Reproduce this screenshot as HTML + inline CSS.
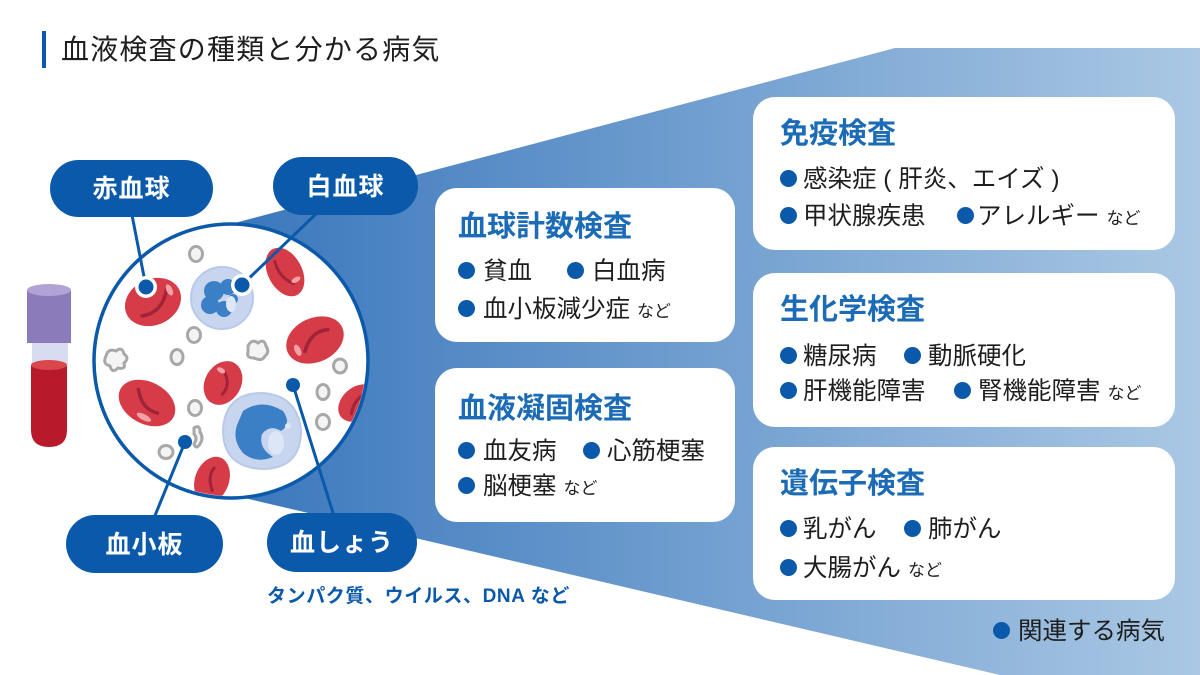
<!DOCTYPE html>
<html><head><meta charset="utf-8">
<style>
*{margin:0;padding:0;box-sizing:border-box}
body{width:1200px;height:675px;overflow:hidden;background:#fff;position:relative;font-family:"Liberation Sans","Noto Sans CJK JP",sans-serif;color:#1e1e1e}
svg{position:absolute;left:0;top:0}
.t{position:absolute;white-space:nowrap;line-height:1}
.pill{position:absolute;background:#0b59aa;color:#fff;font-weight:bold;font-size:25px;text-align:center;border-radius:30px;letter-spacing:1px}
.card{position:absolute;background:#fff;border-radius:22px}
.ct{position:absolute;font-size:29px;font-weight:bold;color:#1b6bb6;line-height:1;white-space:nowrap}
.it{position:absolute;font-size:24.5px;line-height:1;white-space:nowrap;color:#1e1e1e}
.b{position:absolute;width:17px;height:17px;border-radius:50%;background:#0b59aa}
.s{font-size:17px;margin-left:7px}
</style></head><body>
<svg width="1200" height="675" viewBox="0 0 1200 675">
<defs>
<linearGradient id="g" x1="230" y1="0" x2="1200" y2="0" gradientUnits="userSpaceOnUse">
<stop offset="0" stop-color="#3a77bc"/><stop offset="1" stop-color="#aac8e4"/>
</linearGradient>
<clipPath id="cc"><circle cx="231" cy="361" r="135"/></clipPath>
</defs>
<polygon points="231,224 895,48 1200,48 1200,675 1000,675 240,497" fill="url(#g)"/>
<!-- test tube -->
<rect x="27" y="290" width="44" height="53" fill="#8c7bbb"/>
<ellipse cx="49" cy="290" rx="22" ry="6" fill="#b1a4d4"/>
<rect x="32" y="343" width="36" height="22" fill="#d8dcf0"/>
<path d="M31,365 L67,365 L67,430 Q67,447 49,447 Q31,447 31,430 Z" fill="#b81a2c"/>
<ellipse cx="49" cy="365" rx="18" ry="5" fill="#d9474d"/>
<!-- circle -->
<circle cx="231" cy="361" r="137" fill="#fff" stroke="#0b59aa" stroke-width="3.5"/>
<g clip-path="url(#cc)">
<!-- platelets rings -->
<g fill="#f4f4f4" stroke="#a8a8a8" stroke-width="3">
<ellipse cx="196" cy="254" rx="6.5" ry="7.5"/>
<ellipse cx="194" cy="335" rx="6.5" ry="7.5"/>
<ellipse cx="177" cy="357" rx="6" ry="7.5"/>
<ellipse cx="340" cy="366" rx="6.5" ry="7"/>
<ellipse cx="323" cy="392" rx="6" ry="7.5"/>
<ellipse cx="323" cy="422" rx="6.5" ry="7.5"/>
<ellipse cx="195" cy="408" rx="6.5" ry="7.5"/>
<ellipse cx="166" cy="452" rx="7" ry="6.5"/>
<path d="M106,356 Q108,348 116,351 Q122,346 124,354 Q130,358 124,363 Q126,370 118,368 Q112,374 110,366 Q102,364 106,356Z"/>
<path d="M248,346 Q252,338 258,343 Q264,338 266,346 Q270,352 265,356 Q262,362 254,358 Q246,358 248,352Z"/>
<path d="M194,428 Q200,424 200,432 Q204,438 200,444 Q196,450 194,444 Q198,438 194,434Z"/>
</g>
<!-- RBCs -->
<g>
<g transform="translate(153,302) rotate(-25)"><ellipse rx="29" ry="23" fill="#d63c47"/><path d="M-16,8 Q4,14 18,-6" fill="none" stroke="#a1233a" stroke-width="3.5" stroke-linecap="round"/><ellipse cx="20" cy="-4" rx="3" ry="6" fill="#f3a1a6"/></g>
<g transform="translate(285,272) rotate(62)"><ellipse rx="26" ry="17" fill="#d63c47"/><path d="M-14,4 Q2,8 14,-2" fill="none" stroke="#a1233a" stroke-width="3" stroke-linecap="round"/><ellipse cx="12" cy="-6" rx="2.5" ry="5" fill="#f3a1a6"/></g>
<g transform="translate(315,340) rotate(-25)"><ellipse rx="30" ry="22" fill="#d63c47"/><path d="M-14,6 Q0,-10 16,-4" fill="none" stroke="#a1233a" stroke-width="3.5" stroke-linecap="round"/><ellipse cx="-20" cy="2" rx="3" ry="6" fill="#f3a1a6"/></g>
<g transform="translate(223,383) rotate(-60)"><ellipse rx="23" ry="18" fill="#d63c47"/><path d="M-10,5 Q2,8 10,-4" fill="none" stroke="#a1233a" stroke-width="3" stroke-linecap="round"/><ellipse cx="10" cy="-8" rx="2.5" ry="4.5" fill="#f3a1a6"/></g>
<g transform="translate(147,403) rotate(28)"><ellipse rx="30" ry="21" fill="#d63c47"/><path d="M-14,-8 Q-2,8 14,4" fill="none" stroke="#a1233a" stroke-width="3.5" stroke-linecap="round"/><ellipse cx="4" cy="14" rx="8" ry="3" fill="#f3a1a6"/></g>
<g transform="translate(358,403) rotate(-40)"><ellipse rx="22" ry="16" fill="#d63c47"/><path d="M-12,4 Q0,-6 12,-2" fill="none" stroke="#a1233a" stroke-width="3" stroke-linecap="round"/></g>
<g transform="translate(212,480) rotate(-70)"><ellipse rx="24" ry="17" fill="#d63c47"/><path d="M-10,4 Q2,-6 12,-2" fill="none" stroke="#a1233a" stroke-width="3" stroke-linecap="round"/></g>
</g>
<!-- WBC1 -->
<circle cx="222" cy="298" r="31" fill="#c7d5ef" stroke="#b8c9e9" stroke-width="2"/>
<g fill="#3b7fc6"><circle cx="214" cy="291" r="10"/><circle cx="228" cy="287" r="8"/><circle cx="210" cy="305" r="9"/><circle cx="224" cy="309" r="8"/><circle cx="233" cy="299" r="5"/></g>
<ellipse cx="231" cy="304" rx="5" ry="8" fill="#dfe7f7"/>
<!-- WBC2 -->
<path d="M262,393 Q297,395 301,430 Q301,469 262,469 Q223,467 223,430 Q225,393 262,393Z" fill="#c7d5ef" stroke="#b8c9e9" stroke-width="2"/>
<path d="M243,411 Q262,398 283,411 Q292,424 281,431 Q270,424 262,434 Q258,448 273,457 Q256,464 243,453 Q232,440 237,425Z" fill="#3b7fc6"/>
<ellipse cx="276" cy="443" rx="8" ry="12" fill="#dde6f6"/>
<circle cx="288" cy="426" r="3" fill="#dde6f6"/>
</g>
<!-- connectors -->
<g stroke="#0b59aa" stroke-width="3" fill="none">
<line x1="132" y1="215" x2="146" y2="287"/>
<line x1="318" y1="212" x2="242" y2="285"/>
<line x1="293" y1="385" x2="334" y2="516"/>
<line x1="185" y1="442" x2="154" y2="518"/>
</g>
<circle cx="146" cy="287" r="11" fill="#fff"/><circle cx="146" cy="287" r="7.5" fill="#0b59aa"/>
<circle cx="242" cy="285" r="11" fill="#fff"/><circle cx="242" cy="285" r="7.5" fill="#0b59aa"/>
<circle cx="293" cy="385" r="7" fill="#0b59aa"/>
<circle cx="185" cy="442" r="7" fill="#0b59aa"/>
</svg>

<!-- title -->
<div style="position:absolute;left:42px;top:31px;width:4px;height:37px;background:#0b59aa"></div>
<div class="t" style="left:61px;top:36px;font-size:28px;letter-spacing:1.2px;color:#1e1e1e">血液検査の種類と分かる病気</div>

<!-- pills -->
<div class="pill" style="left:50px;top:160px;width:163px;height:57px;line-height:59px">赤血球</div>
<div class="pill" style="left:273px;top:157px;width:145px;height:58px;line-height:60px">白血球</div>
<div class="pill" style="left:66px;top:515px;width:157px;height:58px;line-height:60px">血小板</div>
<div class="pill" style="left:267px;top:513px;width:150px;height:59px;line-height:61px">血しょう</div>
<div class="t" style="left:267px;top:587px;font-size:19px;letter-spacing:0.6px;font-weight:bold;color:#0b59aa">タンパク質、ウイルス、DNA など</div>

<!-- left cards -->
<div class="card" style="left:435px;top:188px;width:300px;height:154px"></div>
<div class="ct" style="left:458px;top:213px">血球計数検査</div>
<div class="b" style="left:458px;top:262px"></div><div class="it" style="left:483px;top:260px">貧血</div>
<div class="b" style="left:567px;top:262px"></div><div class="it" style="left:592px;top:260px">白血病</div>
<div class="b" style="left:458px;top:300px"></div><div class="it" style="left:483px;top:298px">血小板減少症<span class="s">など</span></div>

<div class="card" style="left:435px;top:368px;width:300px;height:154px"></div>
<div class="ct" style="left:458px;top:395px">血液凝固検査</div>
<div class="b" style="left:458px;top:442px"></div><div class="it" style="left:483px;top:440px">血友病</div>
<div class="b" style="left:583px;top:442px"></div><div class="it" style="left:607px;top:440px">心筋梗塞</div>
<div class="b" style="left:458px;top:477px"></div><div class="it" style="left:483px;top:475px">脳梗塞<span class="s">など</span></div>

<!-- right cards -->
<div class="card" style="left:753px;top:97px;width:422px;height:153px"></div>
<div class="ct" style="left:780px;top:120px">免疫検査</div>
<div class="b" style="left:780px;top:170px"></div><div class="it" style="left:803px;top:168px">感染症 ( 肝炎、エイズ )</div>
<div class="b" style="left:780px;top:207px"></div><div class="it" style="left:803px;top:205px">甲状腺疾患</div>
<div class="b" style="left:957px;top:207px"></div><div class="it" style="left:977px;top:205px">アレルギー<span class="s">など</span></div>

<div class="card" style="left:753px;top:273px;width:422px;height:154px"></div>
<div class="ct" style="left:780px;top:296px">生化学検査</div>
<div class="b" style="left:780px;top:347px"></div><div class="it" style="left:803px;top:345px">糖尿病</div>
<div class="b" style="left:904px;top:347px"></div><div class="it" style="left:928px;top:345px">動脈硬化</div>
<div class="b" style="left:780px;top:382px"></div><div class="it" style="left:803px;top:380px">肝機能障害</div>
<div class="b" style="left:954px;top:382px"></div><div class="it" style="left:978px;top:380px">腎機能障害<span class="s">など</span></div>

<div class="card" style="left:753px;top:447px;width:422px;height:153px"></div>
<div class="ct" style="left:780px;top:470px">遺伝子検査</div>
<div class="b" style="left:780px;top:520px"></div><div class="it" style="left:803px;top:518px">乳がん</div>
<div class="b" style="left:904px;top:520px"></div><div class="it" style="left:928px;top:518px">肺がん</div>
<div class="b" style="left:780px;top:559px"></div><div class="it" style="left:803px;top:557px">大腸がん<span class="s">など</span></div>

<!-- legend -->
<div class="b" style="left:993px;top:622px"></div>
<div class="it" style="left:1018px;top:620px">関連する病気</div>
</body></html>
